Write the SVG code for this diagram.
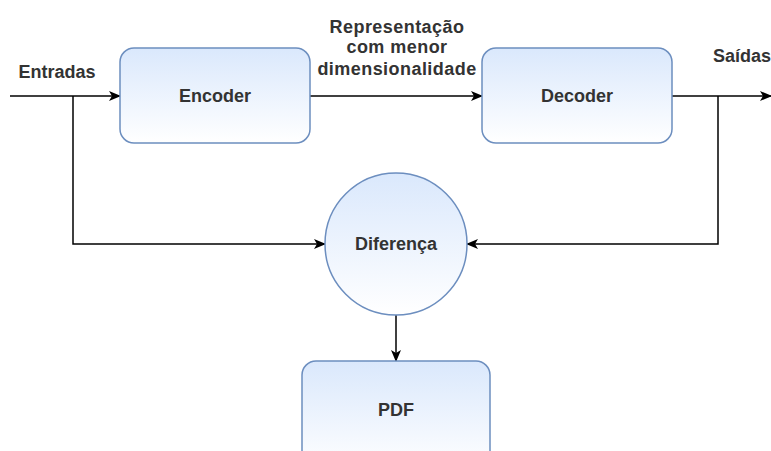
<svg xmlns="http://www.w3.org/2000/svg" width="771" height="451" viewBox="0 0 771 451">
  <defs>
    <linearGradient id="fillBlue" x1="0" y1="0" x2="0" y2="1">
      <stop offset="0" stop-color="#dae8fc"/>
      <stop offset="1" stop-color="#ffffff"/>
    </linearGradient>
    <marker id="arrow" viewBox="0 0 12 10" refX="11" refY="5" markerWidth="12" markerHeight="10" markerUnits="userSpaceOnUse" orient="auto">
      <path d="M0,0 L12,5 L0,10 L3,5 Z" fill="#000"/>
    </marker>
    <style>
      .box { fill: url(#fillBlue); stroke: #6c8ebf; stroke-width: 1.5; }
      .lbl { font-family: "Liberation Sans", Arial, sans-serif; font-size: 18px; font-weight: bold; fill: #333333; text-anchor: middle; }
      .wide { letter-spacing: 0.45px; }
      .edge { fill: none; stroke: #000; stroke-width: 1.5; marker-end: url(#arrow); }
    </style>
  </defs>
  <rect width="771" height="451" fill="#ffffff"/>

  <!-- connectors -->
  <g id="connectors">
    <path class="edge" d="M10,96 L120,96"/>
    <path class="edge" d="M310,96 L482,96"/>
    <path class="edge" d="M672,96 L771,96"/>
    <path class="edge" d="M73,96 L73,244 L325,244"/>
    <path class="edge" d="M718,96 L718,244 L467,244"/>
    <path class="edge" d="M396,315 L396,361"/>
  </g>

  <!-- free labels -->
  <g id="labels">
    <text class="lbl" x="57" y="78">Entradas</text>
    <text class="lbl wide" x="397" y="33">Representação</text>
    <text class="lbl wide" x="397" y="53">com menor</text>
    <text class="lbl wide" x="397" y="75">dimensionalidade</text>
    <text class="lbl" x="742" y="62">Saídas</text>
  </g>

  <g id="encoder">
    <rect class="box" x="120" y="48" width="190" height="95" rx="14"/>
    <text class="lbl" x="215" y="102">Encoder</text>
  </g>

  <g id="decoder">
    <rect class="box" x="482" y="48" width="190" height="95" rx="14"/>
    <text class="lbl" x="577" y="102">Decoder</text>
  </g>

  <g id="diferenca">
    <circle class="box" cx="396" cy="244" r="71"/>
    <text class="lbl" x="396" y="250">Diferença</text>
  </g>

  <g id="pdf">
    <rect class="box" x="302" y="361" width="188" height="110" rx="14"/>
    <text class="lbl" x="396" y="416">PDF</text>
  </g>
</svg>
